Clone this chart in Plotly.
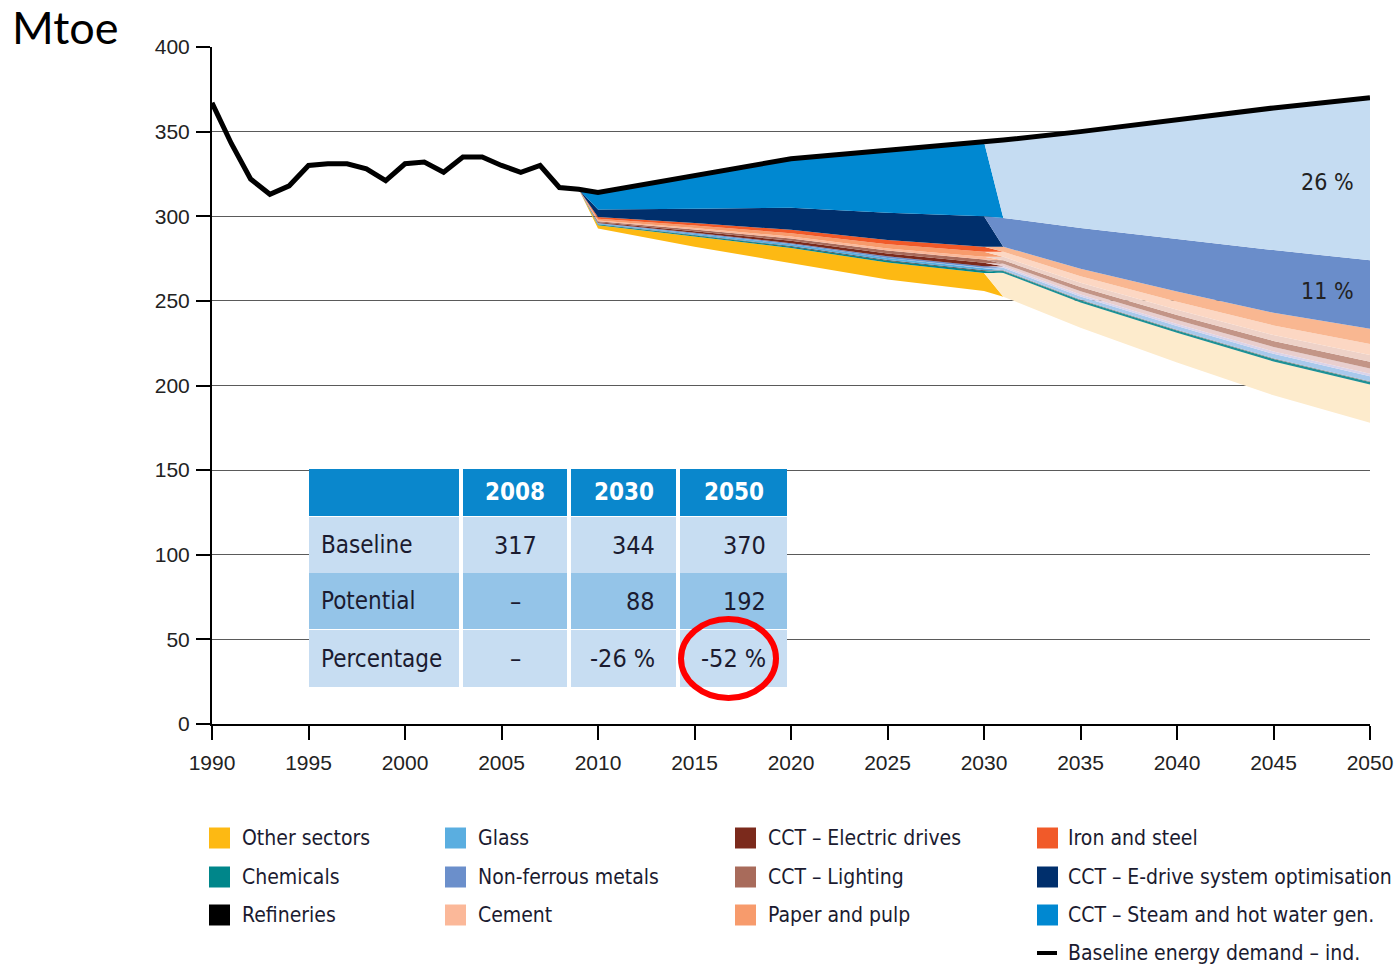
import plotly.graph_objects as go

# ---------------- data ----------------
hist_years = list(range(1990, 2011))
hist_baseline = [367, 343, 322, 313, 318, 330, 331, 331, 328, 321,
                 331, 332, 326, 335, 335, 330, 326, 330, 317, 316, 314]
proj_years = [2015, 2020, 2025, 2030, 2031, 2035, 2040, 2045, 2050]
proj_baseline = [324, 334, 339, 344, 345, 350, 357, 364, 370]

years_to2030 = [2009, 2010, 2015, 2020, 2025, 2030]
years_from2031 = [2031, 2035, 2040, 2045, 2050]

# saving potentials (Mtoe), stacked bottom -> top under the baseline
other_to2030 = [0, 2, 6, 9, 10, 10.5]
other_from2031 = [14, 15, 17.5, 20, 22.6]
chemicals_to2030 = [0, 0.4, 0.6, 0.8, 1.0, 1.2]
chemicals_from2031 = [1.2, 1.3, 1.4, 1.5, 1.5]
refineries_to2030 = [0, 0.2, 0.3, 0.4, 0.5, 0.5]
refineries_from2031 = [0.4, 0.4, 0.4, 0.4, 0.4]
glass_to2030 = [0, 0.4, 0.8, 1.0, 1.2, 1.4]
glass_from2031 = [1.4, 1.8, 2.2, 2.6, 3.0]
nonferrous_to2030 = [0, 0.3, 0.5, 0.7, 0.9, 1.0]
nonferrous_from2031 = [1.0, 1.1, 1.2, 1.4, 1.5]
drives_to2030 = [0, 0.5, 1.0, 1.4, 1.7, 2.0]
drives_from2031 = [1.5, 2.0, 2.4, 2.7, 3.0]
lighting_to2030 = [0, 0.5, 1.0, 1.4, 1.7, 2.0]
lighting_from2031 = [2.0, 2.5, 3.0, 3.5, 4.0]
cement_to2030 = [0, 0.5, 0.8, 1.1, 1.3, 1.5]
cement_from2031 = [2.0, 2.5, 3.0, 3.5, 4.0]
paper_to2030 = [0, 1.0, 1.5, 2.0, 2.5, 3.0]
paper_from2031 = [3.0, 3.8, 4.8, 5.7, 6.5]
iron_to2030 = [0, 1.0, 1.5, 2.0, 2.5, 3.0]
iron_from2031 = [3.0, 4.5, 6.0, 7.5, 9.0]
edrive_to2030 = [0, 4.5, 8.5, 13, 16, 18]
edrive_from2031 = [17, 24, 31, 37, 40.5]
steam_to2030 = [0, 10, 19.5, 29, 37, 44]
steam_from2031 = [46, 57, 70.5, 84, 96]

share_labels = ["26 %", "11 %"]
share_label_pos = [(2047.8, 320), (2047.8, 256)]

table_header = ["", "2008", "2030", "2050"]
table_row_labels = ["Baseline", "Potential", "Percentage"]
table_baseline = ["317", "344", "370"]
table_potential = ["\u2013", "88", "192"]
table_percentage = ["\u2013", "-26 %", "-52 %"]

legend_col1 = ["Other sectors", "Chemicals", "Refineries"]
legend_col2 = ["Glass", "Non-ferrous metals", "Cement"]
legend_col3 = ["CCT \u2013 Electric drives", "CCT \u2013 Lighting", "Paper and pulp"]
legend_col4 = ["Iron and steel", "CCT \u2013 E-drive system optimisation",
               "CCT \u2013 Steam and hot water gen.", "Baseline energy demand \u2013 ind."]

# ---------------- styles ----------------
COL = {
    "Other sectors": ("#fdb913", "#fdebcc"),
    "Chemicals": ("#00868a", "#1f9094"),
    "Refineries": ("#3a3a3a", "#8a8a8a"),
    "Glass": ("#5aaee0", "#a9c9ec"),
    "Non-ferrous metals": ("#6b8fcb", "#d9d3ea"),
    "CCT \u2013 Electric drives": ("#7b2a1c", "#e9cfcf"),
    "CCT \u2013 Lighting": ("#a86b5b", "#c39587"),
    "Cement": ("#fbb899", "#eed2c8"),
    "Paper and pulp": ("#f79b6c", "#fcd7c3"),
    "Iron and steel": ("#f15a29", "#f9b791"),
    "CCT \u2013 E-drive system optimisation": ("#002f6c", "#6a8dca"),
    "CCT \u2013 Steam and hot water gen.": ("#0088d1", "#c5dcf2"),
}
LEGEND_SWATCH = {"Refineries": "#000000"}

stack = [
    ("Other sectors", other_to2030, other_from2031),
    ("Chemicals", chemicals_to2030, chemicals_from2031),
    ("Refineries", refineries_to2030, refineries_from2031),
    ("Glass", glass_to2030, glass_from2031),
    ("Non-ferrous metals", nonferrous_to2030, nonferrous_from2031),
    ("CCT \u2013 Electric drives", drives_to2030, drives_from2031),
    ("CCT \u2013 Lighting", lighting_to2030, lighting_from2031),
    ("Cement", cement_to2030, cement_from2031),
    ("Paper and pulp", paper_to2030, paper_from2031),
    ("Iron and steel", iron_to2030, iron_from2031),
    ("CCT \u2013 E-drive system optimisation", edrive_to2030, edrive_from2031),
    ("CCT \u2013 Steam and hot water gen.", steam_to2030, steam_from2031),
]

NARROW = "Liberation Sans Narrow, DejaVu Sans Condensed, Arial Narrow, sans-serif"
ARIAL = "Liberation Sans, Arial, sans-serif"
TXT = "#1b1b30"

# plot area in pixels
L, R, T, B = 212, 1370, 47, 724


def xp(px):
    return (px - L) / (R - L)


def yp(py):
    return (B - py) / (B - T)


# ---------------- figure ----------------
fig = go.Figure()

base_lookup = dict(zip(hist_years + proj_years, hist_baseline + proj_baseline))
wx = years_to2030 + years_from2031
nd, nl = len(years_to2030), len(years_from2031)
totals = [0.0] * len(wx)
for _, d, l in stack:
    for i, v in enumerate(list(d) + list(l)):
        totals[i] += v
remaining = [base_lookup[x] - t for x, t in zip(wx, totals)]

fig.add_trace(go.Scatter(x=wx, y=remaining, stackgroup="pot", mode="lines",
                         line=dict(width=0), fillcolor="rgba(0,0,0,0)",
                         hoverinfo="skip", showlegend=False))
for name, d, l in stack:
    cd, cl = COL[name]
    fig.add_trace(go.Scatter(x=wx, y=list(d) + [0] * nl, stackgroup="pot", mode="lines",
                             line=dict(width=0, color=cd), fillcolor=cd,
                             name=name, showlegend=False))
    fig.add_trace(go.Scatter(x=wx, y=[0] * nd + list(l), stackgroup="pot", mode="lines",
                             line=dict(width=0, color=cl), fillcolor=cl,
                             name=name, showlegend=False))

fig.add_trace(go.Scatter(x=hist_years + proj_years, y=hist_baseline + proj_baseline,
                         mode="lines", line=dict(color="black", width=5),
                         name="Baseline energy demand \u2013 ind.", showlegend=False))

shapes = []
annotations = []

# share labels
for txt, (x, y) in zip(share_labels, share_label_pos):
    annotations.append(dict(x=x, y=y, xref="x", yref="y", text=txt, showarrow=False,
                            xanchor="center", yanchor="middle",
                            font=dict(family=NARROW, size=23, color="#222222")))

# Mtoe unit label
annotations.append(dict(x=xp(10), y=yp(27), xref="paper", yref="paper", text="Mtoe",
                        showarrow=False, xanchor="left", yanchor="middle",
                        font=dict(family="Lato, Open Sans, sans-serif", size=45, color="black")))

# ---------------- table ----------------
col_edges = [(309, 459), (463, 567), (571, 676), (680, 787)]
row_edges = [(469, 516), (517, 573), (573, 629), (630, 687)]
row_fill = ["#0a87cc", "#c7ddf2", "#94c4e8", "#c7ddf2"]

shapes.append(dict(type="rect", xref="paper", yref="paper", layer="above",
                   x0=xp(309), x1=xp(787), y0=yp(687), y1=yp(469),
                   fillcolor="white", line=dict(width=0)))
for ri, (ry0, ry1) in enumerate(row_edges):
    for (cx0, cx1) in col_edges:
        shapes.append(dict(type="rect", xref="paper", yref="paper", layer="above",
                           x0=xp(cx0), x1=xp(cx1), y0=yp(ry1), y1=yp(ry0),
                           fillcolor=row_fill[ri], line=dict(width=0)))

hy = (row_edges[0][0] + row_edges[0][1]) / 2
for ci, txt in enumerate(table_header):
    if not txt:
        continue
    cx = (col_edges[ci][0] + col_edges[ci][1]) / 2
    annotations.append(dict(x=xp(cx), y=yp(hy), xref="paper", yref="paper", text="<b>%s</b>" % txt,
                            showarrow=False, xanchor="center", yanchor="middle",
                            font=dict(family=NARROW, size=24, color="white")))

body = [table_baseline, table_potential, table_percentage]
for ri, (lab, vals) in enumerate(zip(table_row_labels, body)):
    ry = (row_edges[ri + 1][0] + row_edges[ri + 1][1]) / 2
    annotations.append(dict(x=xp(319), y=yp(ry), xref="paper", yref="paper", text=lab,
                            showarrow=False, xanchor="left", yanchor="middle",
                            font=dict(family=NARROW, size=24, color=TXT)))
    for ci, v in enumerate(vals):
        c0, c1 = col_edges[ci + 1]
        if ci == 0:
            ax, anc = (c0 + c1) / 2, "center"
        else:
            ax, anc = c1 - 19, "right"
        annotations.append(dict(x=xp(ax), y=yp(ry), xref="paper", yref="paper", text=v,
                                showarrow=False, xanchor=anc, yanchor="middle",
                                font=dict(family=NARROW, size=25, color=TXT)))

# red highlight ellipse
shapes.append(dict(type="circle", xref="paper", yref="paper", layer="above",
                   x0=xp(681), x1=xp(776), y0=yp(698), y1=yp(619),
                   line=dict(color="#ff0000", width=6)))

# ---------------- legend (drawn) ----------------
legend_cols = [legend_col1, legend_col2, legend_col3, legend_col4]
sq_x = [209, 445, 735, 1037]
tx_x = [240, 476, 766, 1066]
row_y = [838, 877, 915, 953]
for ci, labels in enumerate(legend_cols):
    for ri, lab in enumerate(labels):
        cy = row_y[ri]
        if lab in COL:
            shapes.append(dict(type="rect", xref="paper", yref="paper",
                               x0=xp(sq_x[ci]), x1=xp(sq_x[ci] + 21),
                               y0=yp(cy + 10.5), y1=yp(cy - 10.5),
                               fillcolor=LEGEND_SWATCH.get(lab, COL[lab][0]), line=dict(width=0)))
        else:
            shapes.append(dict(type="line", xref="paper", yref="paper",
                               x0=xp(sq_x[ci]), x1=xp(sq_x[ci] + 20),
                               y0=yp(cy), y1=yp(cy), line=dict(color="black", width=4)))
        annotations.append(dict(x=xp(tx_x[ci]), y=yp(cy), xref="paper", yref="paper",
                                text=lab, showarrow=False, xanchor="left", yanchor="middle",
                                font=dict(family=NARROW, size=21, color=TXT)))

fig.update_layout(
    width=1398, height=968, autosize=False,
    margin=dict(l=L, r=1398 - R, t=T, b=968 - B, autoexpand=False),
    paper_bgcolor="white", plot_bgcolor="white",
    showlegend=False,
    shapes=shapes, annotations=annotations,
    xaxis=dict(range=[1990, 2050], tickvals=list(range(1990, 2051, 5)),
               ticks="outside", ticklen=14, tickwidth=2, tickcolor="black",
               showline=True, linecolor="black", linewidth=2,
               showgrid=False, zeroline=False, automargin=False,
               ticklabelstandoff=5,
               tickfont=dict(family=ARIAL, size=21, color="#222222")),
    yaxis=dict(range=[0, 400], tickvals=list(range(0, 401, 50)),
               ticks="outside", ticklen=14, tickwidth=1.5, tickcolor="black",
               showline=True, linecolor="black", linewidth=2,
               showgrid=True, gridcolor="#5a5a5a", gridwidth=1, zeroline=False,
               automargin=False, ticklabelstandoff=2,
               tickfont=dict(family=ARIAL, size=21, color="#222222")),
)

fig.write_html("out.html",
               config={"displayModeBar": False, "responsive": False},
               post_script="document.body.style.margin='0';document.body.style.overflow='hidden';")
